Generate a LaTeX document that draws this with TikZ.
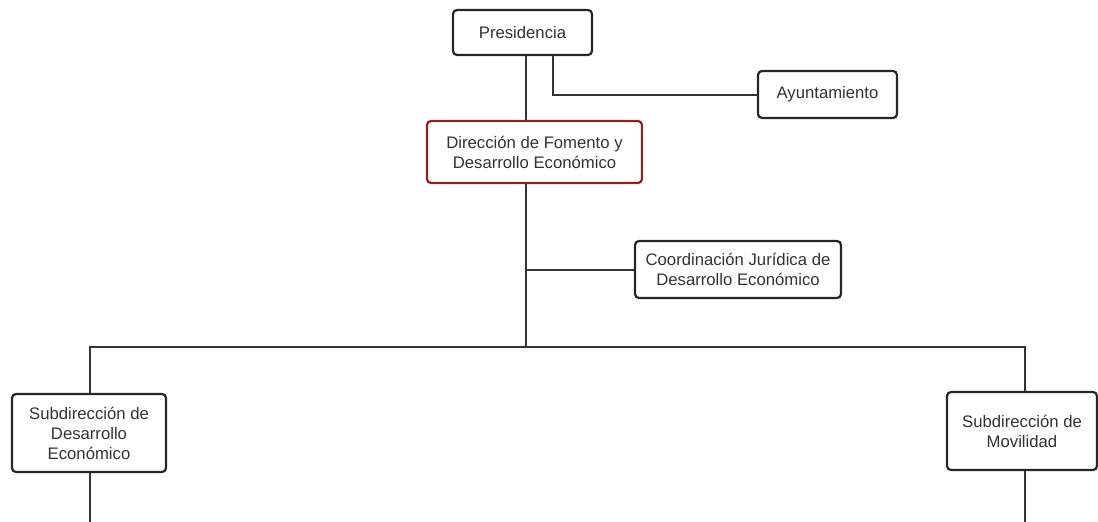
\documentclass[tikz,border=0pt]{standalone}
\usepackage{fontspec}
\setmainfont{Liberation Sans}
\begin{document}
\begin{tikzpicture}[x=1pt,y=-1pt,
  box/.style={draw=black!85, line width=2.2pt, rounded corners=4pt, fill=white,
    text=black!80, align=center, inner sep=0pt,
    font=\fontsize{16.7}{20}\selectfont},
  redbox/.style={box, draw=red!45!black!85},
  link/.style={draw=black!80, line width=2pt}]
\useasboundingbox (0,0) rectangle (1098,522);
\node[box, minimum width=139pt, minimum height=45pt] (P) at (522.5,32.5) {Presidencia};
\node[box, minimum width=139pt, minimum height=47pt] (A) at (827.5,94.5) {Ayuntamiento};
\node[redbox, minimum width=215pt, minimum height=62pt] (D) at (534.5,152) {Dirección de Fomento y\\Desarrollo Económico};
\node[box, minimum width=206pt, minimum height=57pt] (C) at (738,269.5) {Coordinación Jurídica de\\Desarrollo Económico};
\node[box, minimum width=154pt, minimum height=78pt] (S1) at (89,433) {Subdirección de\\Desarrollo\\Económico};
\node[box, minimum width=150pt, minimum height=78pt] (S2) at (1022,431) {Subdirección de\\Movilidad};
\coordinate (J) at (526,347);
\coordinate (E1) at (90,522);
\coordinate (E2) at (1025,522);
\begin{scope}[on background layer/.try]
\end{scope}
\draw[link] (P.south -| J) -- (D.north -| J);
\draw[link] (P.south -| 553,0) |- (A.west);
\draw[link] (D.south -| J) -- (J);
\draw[link] (C.west -| J) -- (C.west);
\draw[link] (S1.north -| E1) |- (J) -| (S2.north -| E2);
\draw[link] (S1.south -| E1) -- (E1);
\draw[link] (S2.south -| E2) -- (E2);
\end{tikzpicture}
\end{document}
